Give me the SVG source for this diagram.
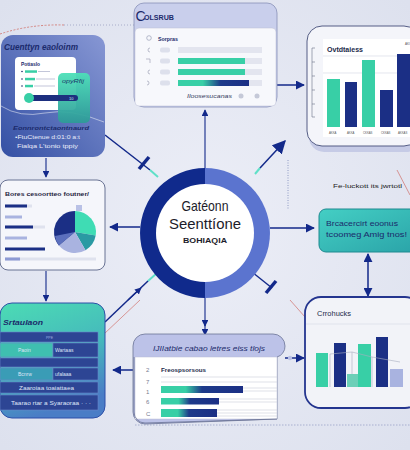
<svg xmlns="http://www.w3.org/2000/svg" width="410" height="450" viewBox="0 0 410 450">
<defs>
<style>
.t{font-family:"Liberation Sans",Arial,sans-serif}
.nv{fill:#1b2a6b}
.cn{stroke:#13298a;stroke-width:1.5;fill:none}
.thin{stroke:#13298a;stroke-width:1.1;fill:none}
.tb{fill:#2d4594;stroke:#6a86c8;stroke-width:0.6}
.tl{font-family:"Liberation Sans",Arial,sans-serif;font-size:5px;fill:#dfe6f8}
.gl{stroke:#d9dbe6;stroke-width:0.7}
</style>
<radialGradient id="bg" cx="50%" cy="50%" r="70%">
<stop offset="0" stop-color="#eceef7"/><stop offset="1" stop-color="#dde1ee"/>
</radialGradient>
<linearGradient id="gTL" x1="0" y1="1" x2="1" y2="0">
<stop offset="0" stop-color="#3450a4"/><stop offset="1" stop-color="#8797d4"/>
</linearGradient>
<linearGradient id="gGreen" x1="0" y1="0" x2="0" y2="1">
<stop offset="0" stop-color="#4de0b8"/><stop offset="1" stop-color="#2e9a98"/>
</linearGradient>
<linearGradient id="gRM" x1="0" y1="0" x2="1" y2="1">
<stop offset="0" stop-color="#44cfc4"/><stop offset="1" stop-color="#2aa3a8"/>
</linearGradient>
<linearGradient id="gLL" x1="0" y1="0" x2="0.3" y2="1">
<stop offset="0" stop-color="#4cdcb4"/><stop offset="0.55" stop-color="#45b9bc"/><stop offset="1" stop-color="#4a7dc6"/>
</linearGradient>
<linearGradient id="gTN" x1="0" y1="0" x2="1" y2="0">
<stop offset="0" stop-color="#38cfa6"/><stop offset="0.35" stop-color="#38cfa6"/><stop offset="0.6" stop-color="#1d3a8a"/><stop offset="1" stop-color="#1b2f85"/>
</linearGradient>
<linearGradient id="gTN2" x1="0" y1="0" x2="1" y2="0">
<stop offset="0" stop-color="#38cfa6"/><stop offset="0.3" stop-color="#38cfa6"/><stop offset="0.5" stop-color="#1d3a8a"/><stop offset="1" stop-color="#1b2f85"/>
</linearGradient>
<marker id="ah" viewBox="0 0 10 10" refX="9" refY="5" markerWidth="6" markerHeight="6" orient="auto-start-reverse" markerUnits="strokeWidth">
<path d="M0,0 L10,5 L0,10 z" fill="#13298a"/>
</marker>
<marker id="ahL" viewBox="0 0 10 10" refX="9" refY="5" markerWidth="9" markerHeight="9" orient="auto" markerUnits="strokeWidth">
<path d="M0,0 L10,5 L0,10 z" fill="#13298a"/>
</marker>
</defs>

<rect width="410" height="450" fill="url(#bg)"/>

<!-- decorative lines -->
<g id="decor" fill="none">
<path d="M0,34 Q30,24 64,25" stroke="#d0706a" stroke-width="0.8" stroke-dasharray="2,1.5"/>
<path d="M64,25 L137,25" stroke="#9aa0c0" stroke-width="0.8" stroke-dasharray="1,2"/>
<path d="M397,170 L410,195" stroke="#d0706a" stroke-width="0.7"/>
<path d="M290,300 L305,317" stroke="#d0706a" stroke-width="0.7"/>
<path d="M140,300 L104,334" stroke="#d0706a" stroke-width="0.7"/>
<path d="M288,160 L288,210" stroke="#7a86b8" stroke-width="0.8" stroke-dasharray="1,1.5"/>
<path d="M135,425 L410,425" stroke="#9aa2c8" stroke-width="0.8" stroke-dasharray="1.5,1.5"/>
</g>

<!-- connectors -->
<g id="connectors">
<line class="thin" x1="205" y1="168" x2="205" y2="110" marker-end="url(#ah)" stroke-width="1.3"/>
<line class="thin" x1="205" y1="298" x2="205" y2="326" marker-end="url(#ah)" stroke-width="1.3"/>
<line class="thin" x1="205" y1="324" x2="205" y2="335" marker-end="url(#ah)"/>
<line class="cn" x1="140" y1="227" x2="110" y2="227" marker-end="url(#ah)" stroke-width="1.6"/>
<line class="cn" x1="270" y1="228" x2="314" y2="228" marker-end="url(#ah)" stroke-width="1.6"/>
<line class="cn" x1="105" y1="135" x2="150" y2="170"/>
<line x1="150" y1="170" x2="158" y2="177" stroke="#5fe0c8" stroke-width="2"/>
<line x1="139" y1="169" x2="149" y2="157" stroke="#13298a" stroke-width="3.5"/>
<line x1="255" y1="174" x2="260" y2="168" stroke="#5fe0c8" stroke-width="2"/>
<line class="cn" x1="260" y1="168" x2="285" y2="141" marker-end="url(#ahL)" stroke-width="1.8"/>
<line class="cn" x1="252" y1="272" x2="272" y2="288"/>
<line x1="266" y1="293" x2="276" y2="281" stroke="#13298a" stroke-width="3.5"/>
<line x1="157" y1="273" x2="148" y2="281" stroke="#5fe0c8" stroke-width="2"/>
<line class="cn" x1="105" y1="322" x2="148" y2="281"/>
<line class="thin" x1="128" y1="300" x2="141" y2="288" marker-end="url(#ah)"/>
<line class="cn" x1="277" y1="85" x2="304" y2="85" marker-end="url(#ah)" stroke-width="1.6"/>
<line class="thin" x1="46" y1="158" x2="46" y2="177" marker-end="url(#ah)"/>
<line class="thin" x1="46" y1="271" x2="46" y2="301" marker-end="url(#ah)" stroke-width="1.3"/>
<line class="cn" x1="133" y1="370" x2="113" y2="370" marker-end="url(#ah)"/>
<line class="cn" x1="285" y1="358" x2="304" y2="358" marker-end="url(#ah)"/>
<circle cx="290" cy="358" r="2.2" fill="#b9c0e6"/>
<line class="cn" x1="368" y1="254" x2="368" y2="296" marker-start="url(#ah)" marker-end="url(#ah)"/>
</g>

<!-- center node -->
<g id="node-center">
<path d="M205,168 A65,65 0 0 0 205,298 Z" fill="#102a8c"/>
<path d="M205,168 A65,65 0 0 1 205,298 Z" fill="#5b74cf"/>
<circle cx="205" cy="233" r="49" fill="#ffffff"/>
<text class="t" x="205" y="211" text-anchor="middle" font-size="15" fill="#1c1c2a" textLength="47" lengthAdjust="spacingAndGlyphs">Gatéonn</text>
<text class="t" x="205" y="229" text-anchor="middle" font-size="15" fill="#1c1c2a" textLength="72" lengthAdjust="spacingAndGlyphs">Seenttíone</text>
<text class="t" x="205" y="243" text-anchor="middle" font-size="6.5" font-weight="bold" fill="#1c1c2a" textLength="44" lengthAdjust="spacingAndGlyphs">BOHIAQIA</text>
</g>

<!-- top-left card -->
<g id="node-tl">
<rect x="1" y="35" width="104" height="122" rx="12" fill="url(#gTL)"/>
<path d="M1,106 Q20,118 45,113 Q70,108 104,122" fill="none" stroke="#ffffff" stroke-opacity="0.7" stroke-width="0.7"/>
<text class="t nv" x="4" y="50" font-size="8.5" font-weight="bold" font-style="italic" textLength="74" lengthAdjust="spacingAndGlyphs">Cuenttyn eaoloinm</text>
<rect x="15" y="57" width="61" height="53" rx="4" fill="#ffffff"/>
<text class="t nv" x="21" y="65.5" font-size="5" font-weight="bold" textLength="19" lengthAdjust="spacingAndGlyphs">Potiaslo</text>
<g fill="#1b2a6b"><circle cx="22" cy="71.5" r="0.8"/><circle cx="22" cy="79" r="0.8"/><circle cx="22" cy="86" r="0.8"/></g>
<rect x="25" y="70.3" width="12" height="2.5" fill="#38cfa6"/>
<rect x="25" y="77.8" width="10" height="2.5" fill="#38cfa6"/>
<rect x="25" y="84.8" width="8" height="2.5" fill="#38cfa6"/>
<g stroke="#9aa0c0" stroke-width="0.6"><line x1="38" y1="71.5" x2="50" y2="71.5"/><line x1="36" y1="79" x2="55" y2="79"/><line x1="34" y1="86" x2="55" y2="86"/></g>
<rect x="58" y="73" width="32" height="50" rx="5" fill="url(#gGreen)" opacity="0.95"/>
<text class="t" x="62" y="83" font-size="5.5" font-style="italic" fill="#1a3a6a" textLength="22" lengthAdjust="spacingAndGlyphs">opyRfij</text>
<rect x="27" y="95" width="51" height="6" rx="3" fill="#1d2f7f"/>
<circle cx="29" cy="98" r="5" fill="#38cfa6"/>
<text class="t" x="69" y="99.8" font-size="4" fill="#cfe6f0">10</text>
<text class="t nv" x="13" y="130" font-size="6" font-weight="bold" font-style="italic" textLength="76" lengthAdjust="spacingAndGlyphs">Eonnrontctaontnaurd</text>
<text class="t" x="15" y="139" font-size="4.5" fill="#e8ecfa" textLength="65" lengthAdjust="spacingAndGlyphs">•FtuCtenue d:01:0 a:t</text>
<text class="t" x="17" y="148" font-size="4.5" fill="#e8ecfa" textLength="61" lengthAdjust="spacingAndGlyphs">Fialqa L'tonio tppiy</text>
</g>

<!-- top-center card -->
<g id="node-tc">
<rect x="134" y="3" width="143" height="104" rx="10" fill="#c9cfec" stroke="#8891b8" stroke-width="0.8"/>
<rect x="135" y="28" width="141" height="78" rx="4" fill="#f7f8fc" stroke="#b8bdd4" stroke-width="0.5"/>
<text class="t nv" x="135.5" y="21" font-size="14" font-weight="300">C</text>
<text class="t nv" x="144" y="19.5" font-size="7.5" font-weight="bold" textLength="30" lengthAdjust="spacingAndGlyphs">OLSRUB</text>
<circle cx="149" cy="38" r="2.3" fill="none" stroke="#9aa0b8" stroke-width="0.7"/>
<text class="t nv" x="158" y="40.5" font-size="6" font-weight="bold" textLength="20" lengthAdjust="spacingAndGlyphs">Sorpras</text>
<g fill="none" stroke="#a0a4b8" stroke-width="0.7">
<path d="M150,48 A2,2 0 1 0 150,52"/><path d="M146,59 L150,59 L150,63"/><path d="M150,70 A2,2 0 1 0 150,74"/><path d="M147,81 A2,2 0 1 1 147,85"/>
</g>
<g fill="#dde0ec"><rect x="160" y="47.5" width="10" height="5" rx="2"/><rect x="160" y="58.5" width="10" height="5" rx="2"/><rect x="160" y="69.5" width="10" height="5" rx="2"/><rect x="160" y="80.5" width="10" height="5" rx="2"/></g>
<g fill="#e3e5ef"><rect x="178" y="47" width="84" height="6"/><rect x="178" y="58" width="84" height="6"/><rect x="178" y="69" width="84" height="6"/><rect x="178" y="80" width="84" height="6"/></g>
<rect x="178" y="58" width="67" height="6" fill="#38cfa6"/>
<rect x="178" y="69" width="67" height="6" fill="#38cfa6"/>
<rect x="178" y="80" width="71" height="6" fill="url(#gTN)"/>
<text class="t" x="187" y="98" font-size="5.5" font-style="italic" fill="#333a5c" textLength="45" lengthAdjust="spacingAndGlyphs">Iloosesucanas</text>
<circle cx="241" cy="96" r="2.5" fill="#c5c9d8"/>
<circle cx="257" cy="96" r="2.5" fill="#c5c9d8"/>
</g>

<!-- top-right card -->
<g id="node-tr">
<rect x="309" y="30" width="112" height="122" rx="15" fill="#c6cbe6"/>
<rect x="307" y="26" width="112" height="120" rx="15" fill="#f4f5fa" stroke="#545d85" stroke-width="1"/>
<rect x="323" y="39" width="96" height="98" fill="#ffffff"/>
<g stroke="#6a6f88" stroke-width="0.6"><line x1="312" y1="48" x2="312" y2="117"/><line x1="312" y1="48" x2="315" y2="48"/><line x1="312" y1="62" x2="315" y2="62"/><line x1="312" y1="76" x2="315" y2="76"/><line x1="312" y1="90" x2="315" y2="90"/><line x1="312" y1="104" x2="315" y2="104"/><line x1="312" y1="117" x2="315" y2="117"/></g>
<text class="t" x="327" y="52" font-size="6.5" font-weight="bold" fill="#222a4a" textLength="36" lengthAdjust="spacingAndGlyphs">Ovtdtaiess</text>
<text class="t" x="405" y="45" font-size="3" fill="#555">AKI</text>
<line class="gl" x1="323" y1="56" x2="410" y2="56"/>
<line class="gl" x1="323" y1="73" x2="410" y2="73"/>
<rect x="327" y="79" width="13" height="48" fill="#38cfa6"/>
<rect x="345" y="82" width="12" height="45" fill="#1b2f85"/>
<rect x="362" y="60" width="13" height="67" fill="#38cfa6"/>
<rect x="380" y="90" width="13" height="37" fill="#1b2f85"/>
<rect x="397" y="54" width="13" height="73" fill="#1b2f85"/>
<g class="t" font-size="2.8" fill="#555"><text x="329" y="134">AKKA</text><text x="347" y="134">AKKA</text><text x="363" y="134">CKKAS</text><text x="381" y="134">CKKAS</text><text x="398" y="134">AKKAS</text></g>
</g>

<!-- left-middle card -->
<g id="node-lm">
<rect x="0" y="180" width="105" height="90" rx="8" fill="#f5f6fb" stroke="#5a6488" stroke-width="0.9"/>
<text class="t" x="5" y="196" font-size="6" font-weight="bold" fill="#1f2440" textLength="84" lengthAdjust="spacingAndGlyphs">Bores cesoortteo foutner/</text>
<rect x="5" y="204.5" width="27" height="3" fill="#dfe2ee"/><rect x="5" y="204.5" width="22" height="3" fill="#1b2f85"/>
<rect x="5" y="215.5" width="17" height="3" fill="#a9b3e0"/>
<rect x="5" y="225.5" width="40" height="3" fill="#dfe2ee"/><rect x="5" y="225.5" width="28" height="3" fill="#1b2f85"/>
<rect x="5" y="236.5" width="22" height="3" fill="#a9b3e0"/>
<rect x="5" y="247.5" width="40" height="3" fill="#1b2f85"/>
<rect x="5" y="257.5" width="91" height="3" fill="#dfe2ee"/><rect x="5" y="257.5" width="15" height="3" fill="#8d9ad4"/>
<rect x="76" y="205" width="6" height="6" fill="#b9c1e6"/>
<path d="M75,232 L75,211 A21,21 0 0 1 95.7,235.6 Z" fill="#3fdcb4"/>
<path d="M75,232 L95.7,235.6 A21,21 0 0 1 85.5,250.2 Z" fill="#2a9aa3"/>
<path d="M75,232 L85.5,250.2 A21,21 0 0 1 58.9,245.5 Z" fill="#a9b3e0"/>
<path d="M75,232 L58.9,245.5 A21,21 0 0 1 75,211 Z" fill="#1b2f85"/>
<path d="M75,232 L58.9,245.5 A21,21 0 0 1 55,236 Z" fill="#5b6fbd"/>
</g>

<!-- right-middle node -->
<g id="node-rm">
<text class="t" x="333" y="188" font-size="6" fill="#222" textLength="69" lengthAdjust="spacingAndGlyphs">Fe-luckott its jwrtotl</text>
<rect x="319" y="209" width="100" height="43" rx="7" fill="url(#gRM)" stroke="#1e8a90" stroke-width="1"/>
<text class="t nv" x="326" y="226" font-size="8" textLength="72" lengthAdjust="spacingAndGlyphs">Brcacercirt eoonus</text>
<text class="t nv" x="326" y="237" font-size="8" textLength="81" lengthAdjust="spacingAndGlyphs">tcoomeg Amig tnos!</text>
</g>

<!-- lower-left card -->
<g id="node-ll">
<rect x="0" y="303" width="105" height="115" rx="12" fill="url(#gLL)" stroke="#2d4fa8" stroke-width="1"/>
<text class="t nv" x="3" y="325" font-size="8" font-weight="bold" font-style="italic" textLength="40" lengthAdjust="spacingAndGlyphs">Srtaulaon</text>
<rect class="tb" x="0" y="332" width="98" height="10"/>
<text class="t" x="46" y="339" font-size="3.5" fill="#9fb0e0">PPE</text>
<rect x="0" y="343" width="53" height="14" fill="#3fbfb0" stroke="#6a86c8" stroke-width="0.6"/>
<rect class="tb" x="53" y="343" width="45" height="14"/>
<text class="tl" x="18" y="352">Paoin</text>
<text class="tl" x="55" y="352">Wartaas</text>
<rect class="tb" x="0" y="358" width="98" height="9"/>
<rect x="0" y="368" width="53" height="12" fill="#3a9cb6" stroke="#6a86c8" stroke-width="0.6"/>
<rect class="tb" x="53" y="368" width="45" height="12"/>
<text class="tl" x="18" y="376">Bcnrw</text>
<text class="tl" x="55" y="376">ufalaaa</text>
<rect class="tb" x="0" y="382" width="98" height="11"/>
<text class="tl" x="19" y="390" textLength="55" lengthAdjust="spacingAndGlyphs">Zaaroiaa toaiattaea</text>
<rect class="tb" x="0" y="395" width="98" height="15"/>
<text class="tl" x="11" y="404.5" textLength="80" lengthAdjust="spacingAndGlyphs">Taarao rtar a  Syaraoraa · · ·</text>
</g>

<!-- bottom-center card -->
<g id="node-bc">
<path d="M145,334 L273,334 A12,12 0 0 1 285,346 A11,11 0 0 1 277,357 L277,419 L145,424 A12,12 0 0 1 133,412 L133,346 A12,12 0 0 1 145,334 Z" fill="#bcc2e8" stroke="#6b7396" stroke-width="0.8"/>
<rect x="135" y="357" width="142" height="62" fill="#ffffff" stroke="#b8bdd4" stroke-width="0.5"/>
<path d="M134,357 L134,412 A11,11 0 0 0 145,423 L277,419" fill="none" stroke="#6b7396" stroke-width="0.8"/>
<text class="t nv" x="153" y="351" font-size="7" font-style="italic" textLength="112" lengthAdjust="spacingAndGlyphs">IJIIatbie cabao letres eiss tlojs</text>
<g class="t" font-size="6" fill="#777b90"><text x="146" y="372">2</text><text x="146" y="384">7</text><text x="146" y="394">1</text><text x="146" y="404">6</text><text x="146" y="416">C</text></g>
<text class="t" x="161" y="372" font-size="6" font-weight="bold" fill="#222a4a" textLength="45" lengthAdjust="spacingAndGlyphs">Freospsorsous</text>
<g stroke="#c9ccd8" stroke-width="0.6">
<line x1="161" y1="377" x2="277" y2="377"/><line x1="161" y1="382" x2="277" y2="382"/>
<line x1="243" y1="388" x2="277" y2="388"/><line x1="243" y1="391" x2="277" y2="391"/>
<line x1="219" y1="399" x2="277" y2="399"/><line x1="219" y1="402" x2="277" y2="402"/>
<line x1="217" y1="410" x2="277" y2="410"/><line x1="217" y1="413" x2="277" y2="413"/><line x1="217" y1="416" x2="277" y2="416"/>
</g>
<rect x="161" y="386" width="82" height="7" fill="url(#gTN2)"/>
<rect x="161" y="398" width="58" height="6.5" fill="url(#gTN2)"/>
<rect x="161" y="409" width="56" height="8" fill="url(#gTN2)"/>
</g>

<!-- bottom-right card -->
<g id="node-br">
<rect x="305" y="297" width="116" height="111" rx="16" fill="#f2f3f8" stroke="#24358f" stroke-width="1.8"/>
<text class="t" x="317" y="316" font-size="6.5" fill="#222a4a" textLength="34" lengthAdjust="spacingAndGlyphs">Crrohucks</text>
<line x1="306" y1="324" x2="410" y2="324" stroke="#dcdee8" stroke-width="0.8"/>
<rect x="316" y="353" width="12" height="34" fill="#38cfa6"/>
<rect x="334" y="343" width="12" height="44" fill="#1b2f85"/>
<rect x="347" y="374" width="11" height="13" fill="#6ccfb8"/>
<rect x="358" y="344" width="13" height="43" fill="#38cfa6"/>
<rect x="376" y="337" width="12" height="50" fill="#1b2f85"/>
<rect x="390" y="369" width="13" height="18" fill="#a9b3e0"/>
<g stroke="#a8acbf" stroke-width="0.6" fill="none">
<polyline points="330,354 352,352 372,357 400,362"/>
<line x1="330" y1="354" x2="330" y2="387"/><line x1="352" y1="352" x2="352" y2="374"/><line x1="372" y1="357" x2="372" y2="387"/>
</g>
</g>
</svg>
